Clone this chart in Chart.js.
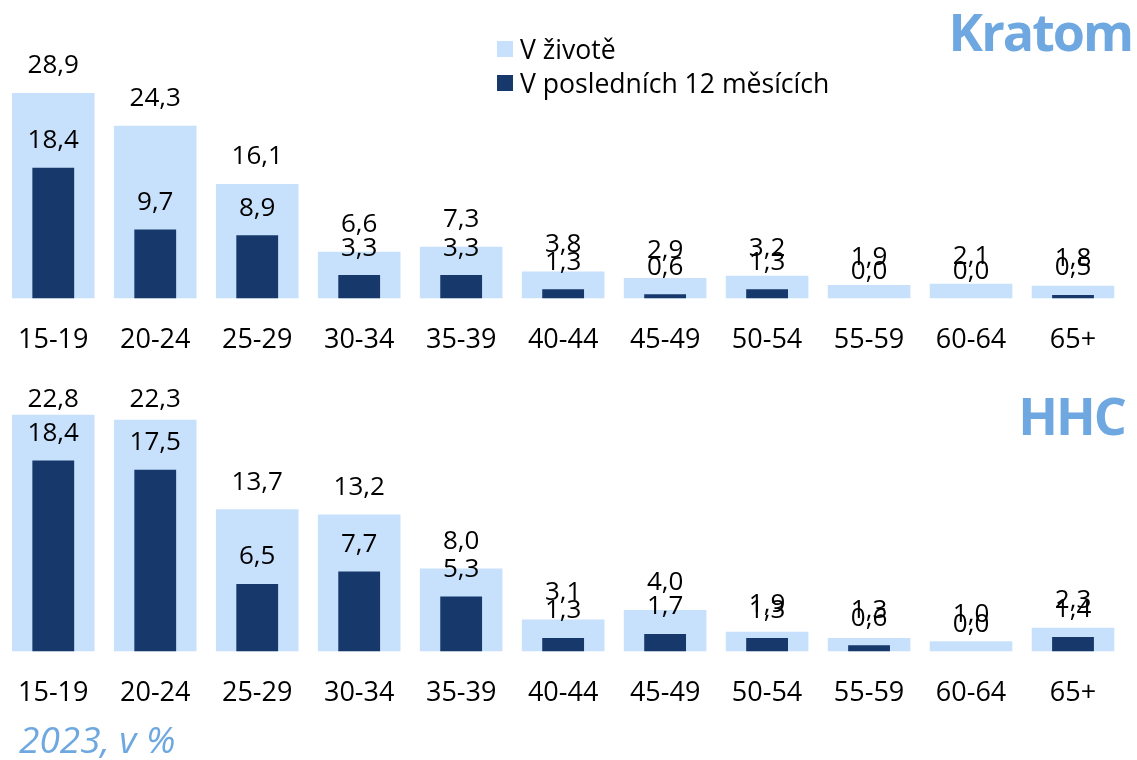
<!DOCTYPE html>
<html lang="cs">
<head>
<meta charset="utf-8">
<script src="https://cdn.jsdelivr.net/npm/chart.js@4"></script>
<style>
  body { margin: 0; background: #fff; font-family: "Open Sans", sans-serif; }
  #page { position: relative; width: 1137px; height: 760px; overflow: hidden; }
  canvas { position: absolute; left: -8px; }
  #kratomCanvas { top: 0; }
  #hhcCanvas { top: 360px; }
  .title { position: absolute; font-weight: bold; font-size: 52px; line-height: 52px; letter-spacing: -2px; color: #6fa8e0; }
  #kratomTitle { right: 5px; top: 5px; }
  #hhcTitle { right: 12px; top: 389px; }
  #legend { position: absolute; left: 497px; top: 32px; font-size: 26.6px; color: #000; }
  .legend-row { display: flex; align-items: center; height: 34px; }
  .legend-box { width: 16px; height: 16px; margin-right: 7px; }
  #note { position: absolute; left: 19px; top: 721px; font-size: 37px; line-height: 36px; font-style: italic; color: #6fa8e0; }
</style>
</head>
<body>
<div id="page">
  <canvas id="kratomCanvas" width="1145" height="390"></canvas>
  <canvas id="hhcCanvas" width="1145" height="390"></canvas>
  <div class="title" id="kratomTitle">Kratom</div>
  <div class="title" id="hhcTitle">HHC</div>
  <div id="legend">
    <div class="legend-row"><div class="legend-box" style="background:#c7e0fb"></div>V životě</div>
    <div class="legend-row"><div class="legend-box" style="background:#17386a"></div>V posledních 12 měsících</div>
  </div>
  <div id="note">2023, v %</div>
</div>
<script>
const categories = ["15-19", "20-24", "25-29", "30-34", "35-39", "40-44", "45-49", "50-54", "55-59", "60-64", "65+"];

const kratomLifetime = [28.9, 24.3, 16.1, 6.6, 7.3, 3.8, 2.9, 3.2, 1.9, 2.1, 1.8];
const kratomLastYear = [18.4, 9.7, 8.9, 3.3, 3.3, 1.3, 0.6, 1.3, 0.0, 0.0, 0.5];

const hhcLifetime = [22.8, 22.3, 13.7, 13.2, 8.0, 3.1, 4.0, 1.9, 1.3, 1.0, 2.3];
const hhcLastYear = [18.4, 17.5, 6.5, 7.7, 5.3, 1.3, 1.7, 1.3, 0.6, 0.0, 1.4];

const lightBlue = "#c7e0fb";
const darkBlue = "#17386a";
const fontFamily = "'Open Sans', sans-serif";

function formatValue(value) {
  return value.toFixed(1).replace(".", ",");
}

// popisky hodnot nad sloupci
const valueLabels = {
  id: "valueLabels",
  afterDatasetsDraw(chart) {
    const { ctx, chartArea } = chart;
    ctx.save();
    ctx.font = `26px ${fontFamily}`;
    ctx.fillStyle = "#000";
    ctx.textAlign = "center";
    ctx.textBaseline = "middle";
    chart.data.datasets.forEach((dataset, i) => {
      chart.getDatasetMeta(i).data.forEach((bar, j) => {
        const y = Math.max(bar.y - 27, chartArea.top + 29);
        ctx.fillText(formatValue(dataset.data[j]), bar.x, y);
      });
    });
    ctx.restore();
  },
};

function renderPanel(canvasId, lifetime, lastYear, yMax, padding) {
  const ctx = document.getElementById(canvasId);
  return new Chart(ctx, {
    type: "bar",
    data: {
      labels: categories,
      datasets: [
        {
          label: "V životě",
          data: lifetime,
          backgroundColor: lightBlue,
          grouped: false,
          order: 2,
          categoryPercentage: 1,
          barPercentage: 0.81,
        },
        {
          label: "V posledních 12 měsících",
          data: lastYear,
          backgroundColor: darkBlue,
          grouped: false,
          order: 1,
          categoryPercentage: 1,
          barPercentage: 0.41,
        },
      ],
    },
    options: {
      responsive: false,
      animation: false,
      layout: { padding },
      scales: {
        x: {
          grid: { display: false, drawTicks: false },
          border: { display: false },
          ticks: {
            color: "#000",
            padding: 26,
            font: { family: fontFamily, size: 27 },
          },
        },
        y: {
          display: false,
          min: 0,
          max: yMax,
        },
      },
      plugins: {
        legend: { display: false },
        tooltip: { enabled: false },
      },
    },
    plugins: [valueLabels],
  });
}

renderPanel("kratomCanvas", kratomLifetime, kratomLastYear, 40, { top: 14, bottom: 7, left: 1, right: 13 });
renderPanel("hhcCanvas", hhcLifetime, hhcLastYear, 27, { top: 11, bottom: 14, left: 1, right: 13 });
</script>
</body>
</html>
